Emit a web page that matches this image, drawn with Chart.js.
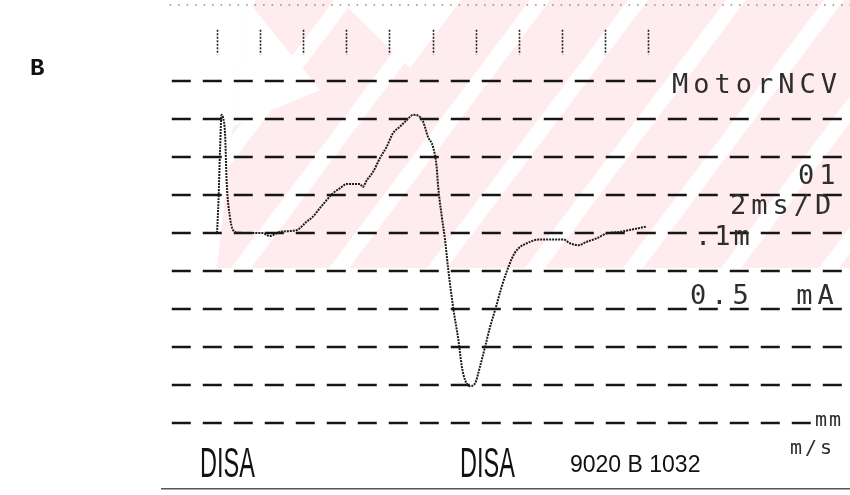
<!DOCTYPE html>
<html>
<head>
<meta charset="utf-8">
<script src="https://cdn.jsdelivr.net/npm/chart.js@4/dist/chart.umd.min.js"></script>
<style>
  html, body { margin: 0; padding: 0; background: #fff; }
  #wrap { width: 850px; height: 495px; }
</style>
</head>
<body>
<div id="wrap"><canvas id="emgChart" width="850" height="495"></canvas></div>
<script>
// motor NCV trace: time after stimulus (ms) and amplitude (mV)
const timeMs = [0, 0.07, 0.14, 0.21, 0.28, 0.37, 0.45, 0.60, 0.74, 0.97, 1.53, 2.09, 2.46, 2.92, 3.71,
  4.16, 4.45, 4.78, 5.09, 5.38, 5.71, 6.02, 6.64, 6.76, 6.95, 7.24, 7.56, 7.87, 8.17, 8.49, 8.80,
  9.10, 9.33, 9.56, 9.79, 10.02, 10.19, 10.26, 10.43, 10.58, 10.73, 10.97, 11.20, 11.36, 11.51,
  11.74, 11.97, 12.20, 12.44, 12.67, 12.90, 13.21, 13.44, 13.68, 13.91, 14.37, 14.99, 16.07,
  16.38, 16.77, 17.16, 17.62, 18.08, 18.70, 19.32, 19.94];
const ampMv = [0, 0.087, 0.218, 0.311, 0.303, 0.263, 0.132, 0.042, 0.008, 0.001, 0, 0, -0.008, 0.003, 0.008,
  0.030, 0.043, 0.066, 0.087, 0.105, 0.118, 0.129, 0.129, 0.121, 0.139, 0.161, 0.197, 0.227, 0.263, 0.280, 0.297,
  0.311, 0.309, 0.293, 0.253, 0.227, 0.174, 0.122, 0.043, -0.018, -0.097, -0.201, -0.282, -0.352, -0.387,
  -0.403, -0.396, -0.352, -0.299, -0.247, -0.203, -0.141, -0.102, -0.067, -0.045, -0.027, -0.017, -0.017,
  -0.027, -0.032, -0.023, -0.014, -0.001, 0.003, 0.010, 0.017];
const tickMs = [0, 2, 4, 6, 8, 10, 12, 14, 16, 18, 20];
const gridMv = [0.4, 0.3, 0.2, 0.1, 0, -0.1, -0.2, -0.3, -0.4, -0.5];
const gridEndMs = [20.9, 29.4, 29.4, 29.4, 29.4, 29.4, 29.4, 29.4, 29.4, 27.6];

const X_MIN = -10.07, X_MAX = 29.37;
const Y_MIN = -0.6895, Y_MAX = 0.6132;

const screenTexts = [
  { text: 'MotorNCV', x: 672, y: 86, size: 27, gap: 5 },
  { text: '01', x: 798, y: 177, size: 27, gap: 5 },
  { text: '2ms/D', x: 730, y: 207, size: 27, gap: 5 },
  { text: '.1m', x: 695, y: 238, size: 27, gap: 3 },
  { text: '0.5  mA', x: 690, y: 297, size: 27, gap: 5 },
  { text: 'mm', x: 815, y: 421, size: 20, gap: 2 },
  { text: 'm/s', x: 790, y: 449, size: 20, gap: 3 }
];

const watermark = {
  id: 'watermark',
  beforeDraw(chart) {
    const ctx = chart.ctx;
    ctx.save();
    ctx.fillStyle = '#fff';
    ctx.fillRect(0, 0, chart.width, chart.height);
    ctx.beginPath();
    ctx.moveTo(247, 0); ctx.lineTo(850, 0); ctx.lineTo(850, 268); ctx.lineTo(217, 268);
    ctx.closePath();
    ctx.clip();
    ctx.fillStyle = 'rgb(254,236,239)';
    ctx.fillRect(0, 0, 850, 268);
    ctx.fillStyle = '#fff';
    for (let bx = -63; bx < 900; bx += 98) {
      ctx.beginPath();
      ctx.moveTo(bx, 268); ctx.lineTo(bx + 20, 268);
      ctx.lineTo(bx + 221, 0); ctx.lineTo(bx + 201, 0);
      ctx.closePath();
      ctx.fill();
    }
    // notch of the V
    ctx.beginPath();
    ctx.moveTo(340, 0); ctx.lineTo(461, 0); ctx.lineTo(410, 68);
    ctx.closePath();
    ctx.fill();
    ctx.beginPath();
    ctx.moveTo(200, 0); ctx.lineTo(247, 0); ctx.lineTo(320, 90); ctx.lineTo(200, 140);
    ctx.closePath();
    ctx.fill();
    ctx.restore();
  }
};

const screenGrid = {
  id: 'screenGrid',
  beforeDatasetsDraw(chart) {
    const { ctx, scales: { x, y } } = chart;
    ctx.save();
    // dashed amplitude lines
    ctx.strokeStyle = '#161616';
    ctx.lineWidth = 2.4;
    ctx.setLineDash([19, 12]);
    gridMv.forEach((v, i) => {
      const py = Math.round(y.getPixelForValue(v));
      ctx.beginPath();
      ctx.moveTo(x.getPixelForValue(-2.1), py);
      ctx.lineTo(x.getPixelForValue(gridEndMs[i]), py);
      ctx.stroke();
    });
    // dotted time markers
    ctx.lineWidth = 1.6;
    ctx.setLineDash([2, 1.5]);
    ctx.strokeStyle = '#222';
    tickMs.forEach(t => {
      const px = Math.round(x.getPixelForValue(t)) + 0.5;
      ctx.beginPath();
      ctx.moveTo(px, y.getPixelForValue(0.535));
      ctx.lineTo(px, y.getPixelForValue(0.47));
      ctx.stroke();
    });
    // faint dotted border at top
    ctx.strokeStyle = '#8a8a8a';
    ctx.lineWidth = 1.5;
    ctx.setLineDash([1.5, 7]);
    ctx.beginPath();
    ctx.moveTo(x.getPixelForValue(-2.2), y.getPixelForValue(0.6));
    ctx.lineTo(x.getPixelForValue(X_MAX), y.getPixelForValue(0.6));
    ctx.stroke();
    // solid bottom border
    ctx.setLineDash([]);
    ctx.strokeStyle = '#555';
    ctx.lineWidth = 1.5;
    ctx.beginPath();
    ctx.moveTo(x.getPixelForValue(-2.6), y.getPixelForValue(-0.673));
    ctx.lineTo(x.getPixelForValue(X_MAX), y.getPixelForValue(-0.673));
    ctx.stroke();
    ctx.restore();
  },
  afterDraw(chart) {
    const ctx = chart.ctx;
    ctx.save();
    ctx.fillStyle = '#2e2e2e';
    ctx.textBaseline = 'middle';
    ctx.textAlign = 'left';
    screenTexts.forEach(s => {
      ctx.font = s.size + 'px "DejaVu Sans Mono"';
      ctx.letterSpacing = s.gap + 'px';
      ctx.fillText(s.text, s.x, s.y);
    });
    ctx.letterSpacing = '0px';
    ctx.textBaseline = 'alphabetic';
    ctx.fillStyle = '#111';
    ctx.font = 'bold 24px "Liberation Mono"';
    ctx.fillText('B', 30, 75);
    // printed frame labels
    ctx.font = '42px "Liberation Sans"';
    [[200, 'DISA'], [460, 'DISA']].forEach(([px, t]) => {
      ctx.save();
      ctx.translate(px, 477);
      ctx.scale(0.56, 1);
      ctx.fillText(t, 0, 0);
      ctx.restore();
    });
    ctx.font = '23px "Liberation Sans"';
    ctx.fillText('9020 B 1032', 570, 472);
    ctx.restore();
  }
};

const ctx = document.getElementById('emgChart').getContext('2d');
const emgChart = new Chart(ctx, {
  type: 'line',
  data: {
    datasets: [{
      label: 'Motor NCV',
      data: timeMs.map((t, i) => ({ x: t, y: ampMv[i] })),
      borderColor: '#1b1b1b',
      borderWidth: 2,
      borderDash: [2, 1],
      pointRadius: 0,
      cubicInterpolationMode: 'monotone',
      fill: false
    }]
  },
  options: {
    responsive: false,
    animation: false,
    devicePixelRatio: 1,
    layout: { padding: 0, autoPadding: false },
    plugins: { legend: { display: false }, tooltip: { enabled: false } },
    scales: {
      x: { type: 'linear', min: X_MIN, max: X_MAX, display: false },
      y: { type: 'linear', min: Y_MIN, max: Y_MAX, display: false }
    }
  },
  plugins: [watermark, screenGrid]
});
</script>
</body>
</html>
